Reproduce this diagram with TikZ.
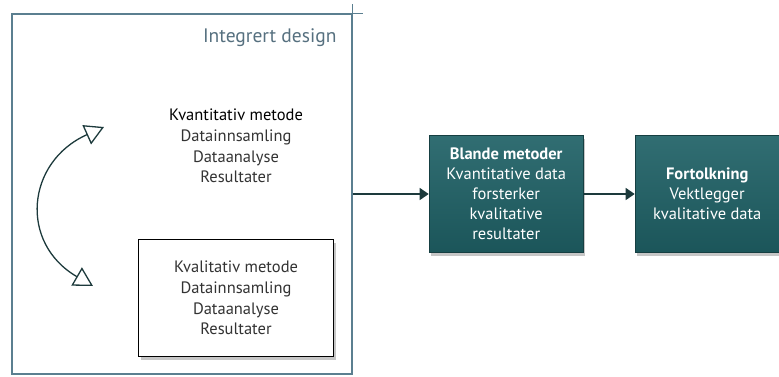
\documentclass[tikz,border=0pt]{standalone}
\usepackage{fontspec}
\setmainfont{PT Sans}
\usepackage{xcolor}
\usepackage{tikz}
\usetikzlibrary{positioning,arrows.meta,shadows}

\definecolor{frame}{HTML}{5B7F90}
\definecolor{titlecol}{HTML}{56707F}
\definecolor{tealbox}{HTML}{1F6166}
\definecolor{tealedge}{HTML}{163F42}
\definecolor{curvecol}{HTML}{1D3A3C}
\definecolor{textcol}{HTML}{333333}

\begin{document}
\begin{tikzpicture}[x=1pt,y=-1pt,
font=\fontsize{16.5}{20.8}\selectfont,
outer/.style={draw=frame,line width=1.4pt,minimum width=340pt,minimum height=360pt},
method/.style={draw=black,line width=1.6pt,fill=white,minimum width=195pt,minimum height=117pt,
    align=center,text=textcol,drop shadow={opacity=.45,shadow xshift=2pt,shadow yshift=-3pt}},
tealnode/.style={draw=tealedge,line width=1pt,top color=tealbox!92!white,bottom color=tealbox!88!black,
    text=white,align=center,minimum height=117pt,font=\fontsize{16.5}{20}\selectfont,
    drop shadow={opacity=.45,shadow xshift=2pt,shadow yshift=-3pt}},
flow/.style={draw=curvecol,line width=1.3pt,-{Triangle[length=9pt,width=12pt]}}]
\useasboundingbox (0,0) rectangle (779,376);

\node (design) [outer] at (182,194) {};
\draw[frame,line width=1.4pt] (design.north east) -- ++(10,0);
\draw[frame,line width=1.4pt] (design.north east) -- ++(0,-9);
\node (title) [text=titlecol,font=\fontsize{19.5}{22}\selectfont,anchor=east] at (340,38) {Integrert design};

\node (quant) [align=center,text=textcol] at (236,146)
    {\textcolor{black}{Kvantitativ metode}\\Datainnsamling\\Dataanalyse\\Resultater};
\node (qual) [method] at (236,298)
    {Kvalitativ metode\\Datainnsamling\\Dataanalyse\\Resultater};

\coordinate (uptip) at (104,127);
\coordinate (downtip) at (93,286);
\draw[curvecol,line width=1.3pt,
    {Triangle[open,length=19pt,width=21pt,line width=1.3pt]}-{Triangle[open,length=19pt,width=21pt,line width=1.3pt]}]
    (uptip) .. controls (26,162) and (19,243) .. (downtip);

\node (blande) [tealnode,minimum width=154pt,right=76pt of design] 
    {\textbf{Blande metoder}\\Kvantitative data\\forsterker\\kvalitative\\resultater};
\node (tolk) [tealnode,minimum width=144pt,right=51pt of blande]
    {\textbf{Fortolkning}\\Vektlegger\\kvalitative data};

\draw[flow] (design) -- (blande);
\draw[flow] (blande) -- (tolk);
\end{tikzpicture}
\end{document}
